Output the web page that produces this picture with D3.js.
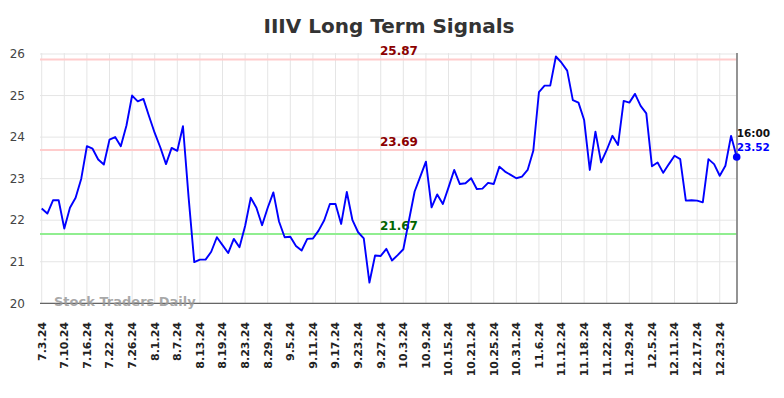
<!DOCTYPE html>
<html>
<head>
<meta charset="utf-8">
<script src="https://cdn.jsdelivr.net/npm/d3@7"></script>
<style>
  body { margin: 0; background: #fff; }
  svg { display: block; font-family: "DejaVu Sans", sans-serif; }
</style>
</head>
<body>
<div id="chart"></div>
<script>
'use strict';

// trading days shown on the chart
var dates = [
    '7.3.24', '7.5.24', '7.8.24', '7.9.24', '7.10.24', '7.11.24', '7.12.24', '7.15.24', '7.16.24', '7.17.24',
    '7.18.24', '7.19.24', '7.22.24', '7.23.24', '7.24.24', '7.25.24', '7.26.24', '7.29.24', '7.30.24', '7.31.24',
    '8.1.24', '8.2.24', '8.5.24', '8.6.24', '8.7.24', '8.8.24', '8.9.24', '8.12.24', '8.13.24', '8.14.24',
    '8.15.24', '8.16.24', '8.19.24', '8.20.24', '8.21.24', '8.22.24', '8.23.24', '8.26.24', '8.27.24', '8.28.24',
    '8.29.24', '8.30.24', '9.3.24', '9.4.24', '9.5.24', '9.6.24', '9.9.24', '9.10.24', '9.11.24', '9.12.24',
    '9.13.24', '9.16.24', '9.17.24', '9.18.24', '9.19.24', '9.20.24', '9.23.24', '9.24.24', '9.25.24', '9.26.24',
    '9.27.24', '9.30.24', '10.1.24', '10.2.24', '10.3.24', '10.4.24', '10.7.24', '10.8.24', '10.9.24', '10.10.24',
    '10.11.24', '10.14.24', '10.15.24', '10.16.24', '10.17.24', '10.18.24', '10.21.24', '10.22.24', '10.23.24', '10.24.24',
    '10.25.24', '10.28.24', '10.29.24', '10.30.24', '10.31.24', '11.1.24', '11.4.24', '11.5.24', '11.6.24', '11.7.24',
    '11.8.24', '11.11.24', '11.12.24', '11.13.24', '11.14.24', '11.15.24', '11.18.24', '11.19.24', '11.20.24', '11.21.24',
    '11.22.24', '11.25.24', '11.26.24', '11.27.24', '11.29.24', '12.2.24', '12.3.24', '12.4.24', '12.5.24', '12.6.24',
    '12.9.24', '12.10.24', '12.11.24', '12.12.24', '12.13.24', '12.16.24', '12.17.24', '12.18.24', '12.19.24', '12.20.24',
    '12.23.24', '12.24.24', '12.26.24', '12.27.24'
];

var prices = [
    22.28, 22.16, 22.48, 22.48, 21.80, 22.30, 22.54, 23.00, 23.78, 23.72,
    23.46, 23.34, 23.94, 24.00, 23.78, 24.28, 25.00, 24.86, 24.92, 24.50,
    24.10, 23.75, 23.35, 23.74, 23.67, 24.26, 22.55, 20.99, 21.05, 21.05,
    21.24, 21.59, 21.40, 21.21, 21.55, 21.35, 21.86, 22.54, 22.30, 21.88,
    22.30, 22.67, 21.97, 21.59, 21.60, 21.38, 21.27, 21.55, 21.56, 21.75,
    22.00, 22.39, 22.39, 21.91, 22.68, 22.00, 21.71, 21.56, 20.50, 21.15,
    21.14, 21.31, 21.03, 21.16, 21.30, 22.00, 22.69, 23.05, 23.41, 22.31,
    22.62, 22.39, 22.79, 23.21, 22.87, 22.89, 23.01, 22.75, 22.76, 22.90,
    22.87, 23.29, 23.17, 23.09, 23.01, 23.05, 23.21, 23.67, 25.08, 25.24,
    25.24, 25.94, 25.79, 25.60, 24.89, 24.83, 24.41, 23.21, 24.13, 23.39,
    23.69, 24.03, 23.81, 24.87, 24.83, 25.04, 24.75, 24.57, 23.30, 23.39,
    23.14, 23.35, 23.55, 23.47, 22.47, 22.48, 22.47, 22.43, 23.47, 23.35,
    23.07, 23.31, 24.03, 23.52
];

var yTicks = [20, 21, 22, 23, 24, 25, 26];
var signalLevels = [25.87, 23.69, 21.67];
var signalKinds = ['resistance', 'resistance', 'support'];
var lastTime = '16:00';
var title = 'IIIV Long Term Signals';

var width = 784,
    height = 398;
var plotLeft = 40,
    plotRight = 737,
    plotTop = 54,
    plotBottom = 303.3;

var svg = d3.select('#chart').append('svg')
    .attr('width', width)
    .attr('height', height);

var x = d3.scalePoint()
    .domain(dates)
    .range([41.7, 736.7]);
var y = d3.scaleLinear()
    .domain([20, 26])
    .range([plotBottom, plotTop]);

var tickDates = dates.filter((d, i) => i % 4 === 0);

svg.append('text')
    .attr('x', 389)
    .attr('y', 33)
    .attr('text-anchor', 'middle')
    .attr('font-size', 20)
    .attr('font-weight', 'bold')
    .attr('fill', '#333')
    .text(title);

// grid
svg.append('g')
    .selectAll('line')
    .data(yTicks)
    .enter().append('line')
    .attr('x1', plotLeft)
    .attr('x2', plotRight)
    .attr('y1', d => y(d))
    .attr('y2', d => y(d))
    .attr('stroke', '#e5e5e5')
    .attr('stroke-width', 1);
svg.append('g')
    .selectAll('line')
    .data(tickDates)
    .enter().append('line')
    .attr('x1', d => x(d))
    .attr('x2', d => x(d))
    .attr('y1', plotTop - 1)
    .attr('y2', plotBottom)
    .attr('stroke', '#e5e5e5')
    .attr('stroke-width', 1);

// y labels
svg.append('g')
    .selectAll('text')
    .data(yTicks)
    .enter().append('text')
    .attr('x', 25)
    .attr('y', d => y(d))
    .attr('dy', '0.35em')
    .attr('text-anchor', 'end')
    .attr('font-size', 12)
    .attr('fill', '#444')
    .text(d => d);

// x labels
svg.append('g')
    .selectAll('text')
    .data(tickDates)
    .enter().append('text')
    .attr('transform', d => 'translate(' + x(d) + ',322) rotate(-90)')
    .attr('dy', '0.35em')
    .attr('text-anchor', 'end')
    .attr('font-size', 11)
    .attr('font-weight', 'bold')
    .attr('fill', '#222')
    .text(d => d);

// signal lines
var signals = signalLevels.map((v, i) => ({ value: v, kind: signalKinds[i] }));
svg.append('g')
    .selectAll('line')
    .data(signals)
    .enter().append('line')
    .attr('x1', plotLeft)
    .attr('x2', plotRight)
    .attr('y1', d => y(d.value))
    .attr('y2', d => y(d.value))
    .attr('stroke', d => d.kind === 'support' ? '#90ee90' : '#ffcccc')
    .attr('stroke-width', 2);
svg.append('g')
    .selectAll('text')
    .data(signals)
    .enter().append('text')
    .attr('x', 399)
    .attr('y', d => y(d.value) - 4)
    .attr('text-anchor', 'middle')
    .attr('font-size', 12)
    .attr('font-weight', 'bold')
    .attr('fill', d => d.kind === 'support' ? '#006400' : '#8b0000')
    .text(d => d.value.toFixed(2));

// axes lines
svg.append('line')
    .attr('x1', plotLeft).attr('x2', plotRight)
    .attr('y1', plotBottom).attr('y2', plotBottom)
    .attr('stroke', '#666')
    .attr('stroke-width', 1.2);
svg.append('line')
    .attr('x1', plotRight).attr('x2', plotRight)
    .attr('y1', plotTop - 1).attr('y2', plotBottom)
    .attr('stroke', '#888')
    .attr('stroke-width', 1.8);

svg.append('text')
    .attr('x', 54)
    .attr('y', 306)
    .attr('font-size', 13)
    .attr('font-weight', 'bold')
    .attr('fill', '#999')
    .attr('fill-opacity', 0.85)
    .text('Stock Traders Daily');

// price line
var line = d3.line()
    .x((d, i) => x(dates[i]))
    .y(d => y(d));
svg.append('path')
    .datum(prices)
    .attr('d', line)
    .attr('fill', 'none')
    .attr('stroke', '#0000ff')
    .attr('stroke-width', 1.9)
    .attr('stroke-linejoin', 'round');

var lastDate = dates[dates.length - 1],
    lastPrice = prices[prices.length - 1];
svg.append('circle')
    .attr('cx', x(lastDate))
    .attr('cy', y(lastPrice))
    .attr('r', 3.8)
    .attr('fill', '#0000ff');
svg.append('text')
    .attr('x', x(lastDate))
    .attr('y', 137)
    .attr('font-size', 10.5)
    .attr('font-weight', 'bold')
    .attr('fill', '#111')
    .text(lastTime);
svg.append('text')
    .attr('x', x(lastDate))
    .attr('y', 151)
    .attr('font-size', 10.5)
    .attr('font-weight', 'bold')
    .attr('fill', '#0000ff')
    .text(lastPrice.toFixed(2));
</script>
</body>
</html>
